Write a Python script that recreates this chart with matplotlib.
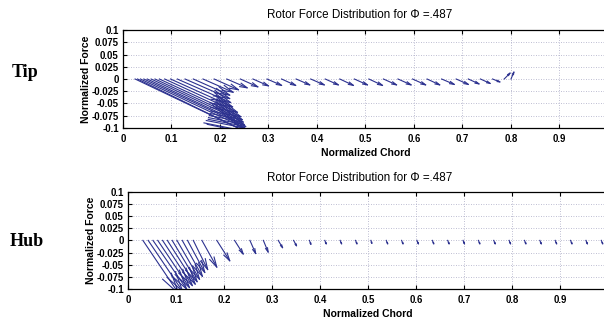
import matplotlib
matplotlib.use("Agg")
import matplotlib.pyplot as plt
import numpy as np

# force vectors along the chord: start x, x-component, y-component (start y is 0)
tip_x = [0.025, 0.030, 0.036, 0.043, 0.050, 0.058, 0.066, 0.075, 0.086, 0.098,
         0.112, 0.128, 0.145, 0.165, 0.188, 0.214, 0.242, 0.268, 0.297, 0.327,
         0.357, 0.387, 0.417, 0.447, 0.477, 0.507, 0.537, 0.567, 0.597, 0.627,
         0.657, 0.687, 0.712, 0.737, 0.762, 0.786, 0.800]
tip_u = [0.225, 0.228, 0.215, 0.210, 0.200, 0.190, 0.180, 0.168, 0.150, 0.128,
         0.110, 0.092, 0.075, 0.062, 0.050, 0.042, 0.036, 0.032, 0.030, 0.029,
         0.028, 0.028, 0.027, 0.028, 0.027, 0.028, 0.027, 0.027, 0.027, 0.026,
         0.026, 0.025, 0.022, 0.020, 0.015, 0.012, 0.006]
tip_v = [-0.106, -0.110, -0.100, -0.097, -0.093, -0.088, -0.083, -0.077, -0.068, -0.057,
         -0.048, -0.040, -0.033, -0.027, -0.022, -0.018, -0.016, -0.014, -0.013, -0.013,
         -0.012, -0.012, -0.012, -0.013, -0.012, -0.013, -0.012, -0.012, -0.012, -0.012,
         -0.011, -0.011, -0.010, -0.009, -0.006, 0.012, 0.014]

hub_x = [0.031, 0.042, 0.052, 0.062, 0.072, 0.082, 0.092, 0.102, 0.113, 0.124,
         0.136, 0.154, 0.185, 0.222, 0.254, 0.282, 0.313, 0.345, 0.378, 0.410,
         0.442, 0.474, 0.506, 0.538, 0.570, 0.602, 0.634, 0.666, 0.698, 0.730,
         0.762, 0.794, 0.826, 0.858, 0.890, 0.922, 0.954, 0.986]
hub_u = [0.075, 0.072, 0.070, 0.066, 0.062, 0.058, 0.052, 0.047, 0.042, 0.036,
         0.030, 0.031, 0.027, 0.018, 0.012, 0.010, 0.009, 0.006, 0.003, 0.003,
         0.003, 0.003, 0.002, 0.003, 0.003, 0.003, 0.003, 0.003, 0.003, 0.003,
         0.003, 0.003, 0.003, 0.003, 0.003, 0.003, 0.003, 0.003]
hub_v = [-0.110, -0.105, -0.100, -0.097, -0.093, -0.090, -0.085, -0.080, -0.074, -0.066,
         -0.060, -0.055, -0.042, -0.028, -0.027, -0.024, -0.015, -0.011, -0.008, -0.007,
         -0.007, -0.007, -0.006, -0.007, -0.007, -0.007, -0.007, -0.007, -0.007, -0.007,
         -0.007, -0.007, -0.007, -0.007, -0.007, -0.007, -0.007, -0.007]

x_ticks = [0, 0.1, 0.2, 0.3, 0.4, 0.5, 0.6, 0.7, 0.8, 0.9, 1]
x_labels = ['0', '0.1', '0.2', '0.3', '0.4', '0.5', '0.6', '0.7', '0.8', '0.9', '1']
y_ticks = [0.1, 0.075, 0.05, 0.025, 0, -0.025, -0.05, -0.075, -0.1]
y_labels = ['0.1', '0.075', '0.05', '0.025', '0', '-0.025', '-0.05', '-0.075', '-0.1']
title = 'Rotor Force Distribution for \u03a6 =.487'

plt.rcParams['font.family'] = ['Liberation Sans', 'DejaVu Sans']
arrow_color = '#2c318f'


def draw_quiver(ax, xs, us, vs):
    # shaft plus two head strokes, heads scaled with the vector length
    alpha, beta = 0.33, 0.25
    for x0, u, v in zip(xs, us, vs):
        x1, y1 = x0 + u, v
        ax.plot([x0, x1], [0, y1], color=arrow_color, lw=0.8)
        hx = [x1 - alpha * (u + beta * v), x1, x1 - alpha * (u - beta * v)]
        hy = [y1 - alpha * (v - beta * u), y1, y1 - alpha * (v + beta * u)]
        ax.plot(hx, hy, color=arrow_color, lw=0.8)


def style_axes(ax, show_last):
    ax.set_xlim(0, 1)
    ax.set_ylim(-0.1, 0.1)
    ax.set_xticks(x_ticks)
    ax.set_xticklabels(x_labels if show_last else x_labels[:-1] + [''])
    ax.set_yticks(y_ticks)
    ax.set_yticklabels(y_labels)
    ax.tick_params(direction='in', length=3, width=0.8, top=True, right=True,
                   labelsize=6.9)
    ax.tick_params(axis='x', pad=4)
    ax.tick_params(axis='y', pad=3)
    for lab in ax.get_xticklabels() + ax.get_yticklabels():
        lab.set_fontweight('bold')
    ax.grid(True, color='#a8a8c4', linestyle=(0, (1, 2)), linewidth=0.6)
    for sp in ax.spines.values():
        sp.set_linewidth(0.9)
    ax.set_xlabel('Normalized Chord', fontsize=7.5, fontweight='bold', labelpad=3)
    ax.set_ylabel('Normalized Force', fontsize=7.5, fontweight='bold', labelpad=0)


fig = plt.figure(figsize=(6.04, 3.22), dpi=100)
ax1 = fig.add_axes([0.2036, 0.6025, 0.803, 0.3043])
ax2 = fig.add_axes([0.2119, 0.1025, 0.7947, 0.302])

draw_quiver(ax1, tip_x, tip_u, tip_v)
draw_quiver(ax2, hub_x, hub_u, hub_v)
style_axes(ax1, True)
style_axes(ax2, False)

fig.text(0.595, 0.953, title, fontsize=8.4, ha='center', va='center')
fig.text(0.595, 0.447, title, fontsize=8.4, ha='center', va='center')

fig.text(0.042, 0.775, 'Tip', family=['Liberation Serif', 'DejaVu Serif'],
         fontsize=13, fontweight='bold', ha='center', va='center')
fig.text(0.044, 0.25, 'Hub', family=['Liberation Serif', 'DejaVu Serif'],
         fontsize=13, fontweight='bold', ha='center', va='center')

fig.savefig('out.png', dpi=100)
